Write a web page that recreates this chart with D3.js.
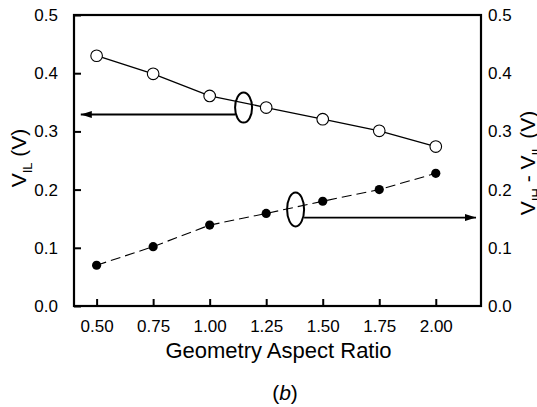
<!DOCTYPE html>
<html>
<head>
<meta charset="utf-8">
<script src="https://cdn.jsdelivr.net/npm/d3@7"></script>
<style>
  body { margin: 0; background: #fff; }
  text { font-family: "Liberation Sans", Arial, sans-serif; fill: #000; }
</style>
</head>
<body>
<svg id="chart" width="537" height="407"></svg>
<script>
// values
var ratio = [0.50, 0.75, 1.00, 1.25, 1.50, 1.75, 2.00];
var vil = [0.430, 0.399, 0.361, 0.341, 0.321, 0.301, 0.274];      // open circles, left axis
var margin = [0.070, 0.102, 0.139, 0.159, 0.180, 0.200, 0.228];   // filled dots, right axis
var xTicks = [0.50, 0.75, 1.00, 1.25, 1.50, 1.75, 2.00];
var yTicks = [0.0, 0.1, 0.2, 0.3, 0.4, 0.5];

// ellipse + arrow callouts, in data units
var callouts = [
	{cx: 1.15, cy: 0.341, ay: 0.329, tip: 0.43},
	{cx: 1.38, cy: 0.166, ay: 0.152, tip: 2.178}
];

var plotL = 74, plotR = 481, plotT = 15, plotB = 306;

var svg = d3.select("#chart");

var x = d3.scaleLinear().domain([0.4, 2.2]).range([plotL, plotR]);
var y = d3.scaleLinear().domain([0, 0.5]).range([plotB, plotT]);

var defs = svg.append("defs");
defs.append("marker")
	.attr("id", "head")
	.attr("viewBox", "0 0 11 7")
	.attr("refX", 11)
	.attr("refY", 3.5)
	.attr("markerWidth", 11)
	.attr("markerHeight", 7)
	.attr("markerUnits", "userSpaceOnUse")
	.attr("orient", "auto")
	.append("path")
	.attr("d", "M0,0L11,3.5L0,7Z")
	.attr("fill", "#000");

//frame
svg.append("rect")
	.attr("x", plotL)
	.attr("y", plotT)
	.attr("width", plotR - plotL)
	.attr("height", plotB - plotT)
	.attr("fill", "none")
	.attr("stroke", "#000")
	.attr("stroke-width", 2.2);

//axes, ticks pointing inward
var xAxis = svg.append("g")
	.attr("transform", "translate(0," + plotB + ")")
	.call(d3.axisBottom(x).tickValues(xTicks).tickFormat(d3.format(".2f"))
		.tickSizeInner(-7).tickSizeOuter(0).tickPadding(14));

var yAxis = svg.append("g")
	.attr("transform", "translate(" + plotL + ",0)")
	.call(d3.axisLeft(y).tickValues(yTicks).tickFormat(d3.format(".1f"))
		.tickSizeInner(-7).tickSizeOuter(0).tickPadding(16));

var yAxisR = svg.append("g")
	.attr("transform", "translate(" + plotR + ",0)")
	.call(d3.axisRight(y).tickValues(yTicks).tickFormat(d3.format(".1f"))
		.tickSize(0).tickPadding(7));

[xAxis, yAxis, yAxisR].forEach(function (g) {
	g.select(".domain").remove();
	g.selectAll(".tick line").attr("stroke", "#000").attr("stroke-width", 2);
	g.selectAll(".tick text")
		.attr("font-family", "Liberation Sans, Arial, sans-serif")
		.attr("font-size", 17)
		.attr("fill", "#000");
});

//series lines
var lineFn = d3.line()
	.x(function (d, i) { return x(ratio[i]); })
	.y(function (d) { return y(d); });

svg.append("path")
	.datum(vil)
	.attr("d", lineFn)
	.attr("fill", "none")
	.attr("stroke", "#000")
	.attr("stroke-width", 1.3);

svg.append("path")
	.datum(margin)
	.attr("d", lineFn)
	.attr("fill", "none")
	.attr("stroke", "#000")
	.attr("stroke-width", 1.1)
	.attr("stroke-dasharray", "10,5");

svg.selectAll(".open")
	.data(vil)
	.enter()
	.append("circle")
	.attr("class", "open")
	.attr("cx", function (d, i) { return x(ratio[i]); })
	.attr("cy", function (d) { return y(d); })
	.attr("r", 5.8)
	.attr("fill", "#fff")
	.attr("stroke", "#000")
	.attr("stroke-width", 1.1);

svg.selectAll(".filled")
	.data(margin)
	.enter()
	.append("circle")
	.attr("class", "filled")
	.attr("cx", function (d, i) { return x(ratio[i]); })
	.attr("cy", function (d) { return y(d); })
	.attr("r", 4.6)
	.attr("fill", "#000");

//callouts
callouts.forEach(function (c, i) {
	var rx = 8.5, ry = i == 0 ? 15 : 17;
	var startX = i == 0 ? x(c.cx) - rx : x(c.cx) + rx;
	svg.append("line")
		.attr("x1", startX)
		.attr("y1", y(c.ay))
		.attr("x2", x(c.tip))
		.attr("y2", y(c.ay))
		.attr("stroke", "#000")
		.attr("stroke-width", 1.8)
		.attr("marker-end", "url(#head)");
	svg.append("ellipse")
		.attr("cx", x(c.cx))
		.attr("cy", y(c.cy))
		.attr("rx", rx)
		.attr("ry", ry)
		.attr("fill", "none")
		.attr("stroke", "#000")
		.attr("stroke-width", 2);
});

//axis titles
var lt = svg.append("text")
	.attr("transform", "translate(26,158) rotate(-90)")
	.attr("text-anchor", "middle")
	.attr("font-size", 21);
lt.append("tspan").text("V");
lt.append("tspan").attr("font-size", 13).attr("dy", 6).text("IL");
lt.append("tspan").attr("dy", -6).text(" (V)");

var rt = svg.append("text")
	.attr("transform", "translate(535,163) rotate(-90)")
	.attr("text-anchor", "middle")
	.attr("font-size", 21);
rt.append("tspan").text("V");
rt.append("tspan").attr("font-size", 13).attr("dy", 6).text("IH");
rt.append("tspan").attr("dy", -6).text(" - V");
rt.append("tspan").attr("font-size", 13).attr("dy", 6).text("IL");
rt.append("tspan").attr("dy", -6).text(" (V)");

svg.append("text")
	.attr("x", (plotL + plotR) / 2 + 1)
	.attr("y", 358)
	.attr("text-anchor", "middle")
	.attr("font-size", 22)
	.text("Geometry Aspect Ratio");

svg.append("text")
	.attr("x", 285)
	.attr("y", 400)
	.attr("text-anchor", "middle")
	.attr("font-family", "Liberation Serif, Times New Roman, serif")
	.attr("font-size", 21)
	.html("(<tspan font-style='italic'>b</tspan>)");
</script>
</body>
</html>
